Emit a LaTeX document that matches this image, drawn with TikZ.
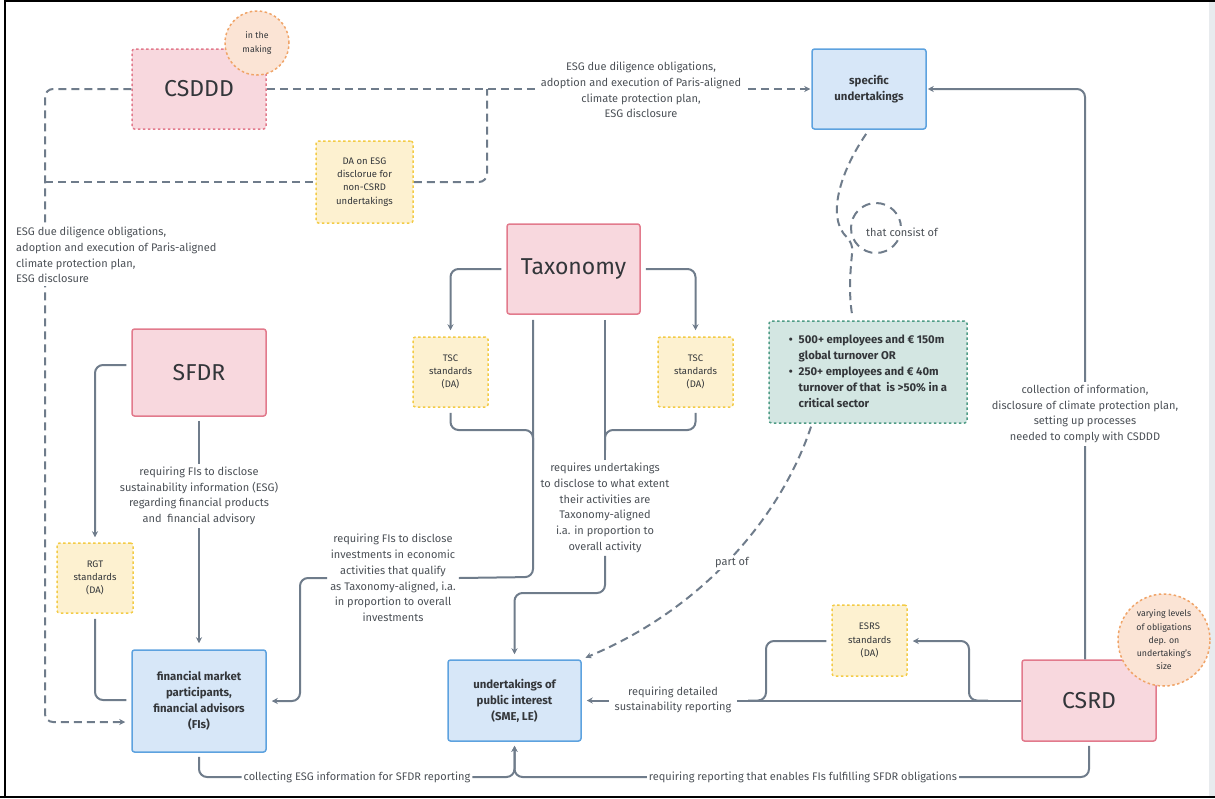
\documentclass[tikz,border=0pt]{standalone}
\usepackage{fontspec}
\setmainfont{Fira Sans}
\usetikzlibrary{arrows.meta,calc}

\definecolor{pinkfill}{HTML}{F8D8DE}
\definecolor{pinkline}{HTML}{E27A8C}
\definecolor{bluefill}{HTML}{D7E7F8}
\definecolor{blueline}{HTML}{5DA2DF}
\definecolor{yelfill}{HTML}{FDF1D0}
\definecolor{yelline}{HTML}{F3CB45}
\definecolor{peachfill}{HTML}{FBE4D5}
\definecolor{peachline}{HTML}{F0A468}
\definecolor{greenfill}{HTML}{D3E6E2}
\definecolor{greenline}{HTML}{4F9C86}
\definecolor{conn}{HTML}{6F7C8B}
\definecolor{labtxt}{HTML}{4C5157}
\definecolor{boxtxt}{HTML}{33363A}
\definecolor{stripgray}{HTML}{E8EBEE}

\tikzset{
 base/.style={rounded corners=2.5pt, line width=1.5pt, inner sep=0pt, align=center, text=boxtxt},
 lawbox/.style={base, fill=pinkfill, draw=pinkline, font=\fontsize{23}{27}\selectfont},
 lawdash/.style={lawbox, dash pattern=on 2.5pt off 2.5pt},
 partybox/.style={base, fill=bluefill, draw=blueline, font=\bfseries\fontsize{11.4}{16}\selectfont},
 dabox/.style={base, fill=yelfill, draw=yelline, dash pattern=on 2.5pt off 2.5pt, font=\fontsize{9.5}{13.3}\selectfont},
 notecirc/.style={circle, fill=peachfill, draw=peachline, line width=1.5pt, dash pattern=on 2.5pt off 2.5pt, inner sep=0pt, align=center, text=boxtxt, font=\fontsize{8.8}{13.3}\selectfont},
 critbox/.style={base, fill=greenfill, draw=greenline, dash pattern=on 2.5pt off 2.5pt, font=\bfseries\fontsize{11.3}{16}\selectfont},
 con/.style={draw=conn, line width=2pt, rounded corners=8pt},
 dcon/.style={con, dash pattern=on 8pt off 5pt},
 tip/.style={-{Stealth[length=6pt,width=6pt]}},
 lab/.style={fill=white, inner sep=3pt, align=center, text=labtxt, font=\fontsize{11}{15.7}\selectfont},
}

\begin{document}
\begin{tikzpicture}[x=1pt,y=-1pt]
\useasboundingbox (0,0) rectangle (1215,798);
% frame
\fill[stripgray] (1209,0) rectangle (1215,798);
\draw[line width=2pt] (5,798) -- (5,1) -- (1215,1);
\draw[line width=2pt] (0,796.5) -- (1215,796.5);

% boxes
\node[lawdash, minimum width=134, minimum height=80] (csddd) at (199,89) {CSDDD};
\node[notecirc, minimum size=64] (making) at (257,43) {in the\\making};
\node[dabox, minimum width=97, minimum height=82] (da) at (364.5,182) {DA on ESG\\disclorue for\\non-CSRD\\undertakings};
\node[partybox, minimum width=114, minimum height=80] (spec) at (869,89) {specific\\undertakings};
\node[critbox, minimum width=198, minimum height=102] (crit) at (868,372) {\begin{tabular}{@{}l@{\hspace{6pt}}l@{}}•& 500+ employees and € 150m\\ & global turnover OR\\ •& 250+ employees and € 40m\\ & turnover of that~ is >50\% in a\\ & critical sector\end{tabular}};
\node[lawbox, minimum width=134, minimum height=87] (sfdr) at (199,372.5) {SFDR};
\node[dabox, minimum width=76, minimum height=70] (rgt) at (95,578) {RGT\\standards\\(DA)};
\node[partybox, minimum width=134, minimum height=102] (fis) at (199,701) {financial market\\participants,\\financial advisors\\(FIs)};
\node[lawbox, minimum width=133, minimum height=90] (tax) at (573.5,269) {Taxonomy};
\node[dabox, minimum width=75, minimum height=70] (tscl) at (450.5,372) {TSC\\standards\\(DA)};
\node[dabox, minimum width=75, minimum height=70] (tscr) at (695.5,372) {TSC\\standards\\(DA)};
\node[partybox, minimum width=133, minimum height=81] (upi) at (514.5,700.5) {undertakings of\\public interest\\(SME, LE)};
\node[dabox, minimum width=75, minimum height=71] (esrs) at (869.5,640.5) {ESRS\\standards\\(DA)};
\node[lawbox, minimum width=134, minimum height=81] (csrd) at (1089,700.5) {CSRD};
\node[notecirc, minimum size=92] (vary) at (1164,640) {varying levels\\of obligations\\dep. on\\undertaking's\\size};

% labels that end connectors
\node[lab] (l5) at (393,578) {requiring FIs to disclose\\investments in economic\\activities that qualify\\as Taxonomy-aligned, i.a.\\in proportion to overall\\investments};
\node[lab] (l6) at (605,508) {requires undertakings\\to disclose to what extent\\their activities are\\Taxonomy-aligned\\i.a. in proportion to\\overall activity};
\node[lab, inner sep=2pt] (l8) at (357,777) {collecting ESG information for SFDR reporting};
\node[lab, inner sep=2pt] (l9) at (803,777) {requiring reporting that enables FIs fulfilling SFDR obligations};

% coordinates
\coordinate (lt) at (45,89);
\coordinate (lb) at (45,722);
\coordinate (lm) at (45,182);
\coordinate (dj) at (487,182);
\coordinate (dt) at (487,89);
\coordinate (rt) at (1085,89);
\coordinate (sr) at (95,365);
\coordinate (rb) at (95,700);
\coordinate (tl) at (450.5,269);
\coordinate (tr) at (695.5,269);
\coordinate (ta) at (533,577);
\coordinate (fl) at (300,701);
\coordinate (tj1) at (450.5,430);
\coordinate (tj2) at (533,430);
\coordinate (tj3) at (695.5,430);
\coordinate (tj4) at (605,430);
\coordinate (tb) at (605,319);
\coordinate (tc1) at (605,593);
\coordinate (tc2) at (514.5,593);
\coordinate (e1) at (748,700.5);
\coordinate (e2) at (766,700.5);
\coordinate (e3) at (766,641);
\coordinate (e4) at (988,700.5);
\coordinate (e5) at (969,700.5);
\coordinate (e6) at (969,641);
\coordinate (bj) at (514.5,777);

% CSDDD connectors
\draw[dcon,tip,shorten >=6pt] (csddd.west) -- (lt) -- (lb) -- (fis.west |- lb);
\draw[dcon] (lm) -- (da.west);
\draw[dcon] (da.east) -- (dj) -- (dt);
\draw[dcon,tip,shorten >=1pt] (csddd.east) -- (spec.west);

% CSRD -> specific undertakings
\draw[con,tip,shorten >=1pt] (csrd.north -| rt) -- (rt) -- (spec.east);

% specific undertakings -> criteria (curl)
\draw[dcon,shorten <=5pt,shorten >=5pt] (spec.south) .. controls (840,172) and (826,218) .. (853,243) .. controls (851,265) and (848,290) .. ([xshift=-15pt]crit.north);
\node[circle, draw=conn, line width=2pt, dash pattern=on 9pt off 6pt, minimum size=50, inner sep=0pt] (loop) at (876,228) {};

% criteria -> undertakings of public interest
\draw[dcon,tip,shorten <=3pt,shorten >=4pt] ([xshift=-56pt]crit.south) .. controls (780,520) and (700,610) .. (upi.north east);

% SFDR
\draw[con,tip,shorten <=4pt,shorten >=6pt] (sfdr.south) -- (fis.north);
\draw[con,tip,shorten <=5pt,shorten >=5pt] (sfdr.west |- sr) -- (sr) -- (rgt.north);
\draw[con,shorten <=5pt,shorten >=5pt] (rgt.south) -- (rb) -- (fis.west |- rb);

% Taxonomy
\draw[con,tip,shorten <=5pt,shorten >=6pt] (tax.west) -- (tl) -- (tscl.north);
\draw[con,tip,shorten <=5pt,shorten >=6pt] (tax.east) -- (tr) -- (tscr.north);
\draw[con,shorten <=5pt] (tax.south -| ta) -- (ta) -- (l5.east);
\draw[con,tip,shorten >=5pt] (l5.west) -| (fl) -- (fis.east);
\draw[con,shorten <=5pt] (tscl.south) -- (tj1) -- (tj2) -- ++(0,20);
\draw[con,shorten <=5pt] (tscr.south) -- (tj3) -- (tj4) -- ++(0,20);
\draw[con,shorten <=5pt] (tax.south -| tb) -- (l6.north);
\draw[con,tip,shorten >=5pt] (l6.south) -- (tc1) -- (tc2) -- (upi.north);

% CSRD
\draw[con,tip,shorten >=5pt] (csrd.west) -- (upi.east);
\draw[con,shorten >=5pt] (e1) -- (e2) -- (e3) -- (esrs.west |- e3);
\draw[con,tip,shorten >=5pt] (e4) -- (e5) -- (e6) -- (esrs.east |- e6);

% bottom
\draw[con,shorten <=4pt] (fis.south) |- (l8.west);
\draw[con,tip,shorten >=4pt] (l8.east) -- (bj) -- (upi.south);
\draw[con,shorten <=4pt] (csrd.south) |- (l9.east);
\draw[con,tip,shorten >=4pt] (l9.west) -- (bj) -- (upi.south);

% labels on top of connectors
\node[lab] (l1) at (641,90) {ESG due diligence obligations,\\adoption and execution of Paris-aligned\\climate protection plan,\\ESG disclosure};
\node[lab, anchor=west, align=left] (l2) at (13,255) {ESG due diligence obligations,\\adoption and execution of Paris-aligned\\climate protection plan,\\ESG disclosure};
\node[lab] (l3) at (1085,414) {collection of information,\\disclosure of climate protection plan,\\setting up processes\\needed to comply with CSDDD};
\node[lab] (l4) at (199,496) {requiring FIs to disclose\\sustainability information (ESG)\\regarding financial products\\and~ financial advisory};
\node[lab, inner xsep=6pt] (l7) at (673,700) {requiring detailed\\sustainability reporting};
\node[lab, inner sep=2pt] (partof) at (732,563) {part of};
\node[lab, inner sep=1.5pt] (that) at (902,232) {that consist of};
\end{tikzpicture}
\end{document}
